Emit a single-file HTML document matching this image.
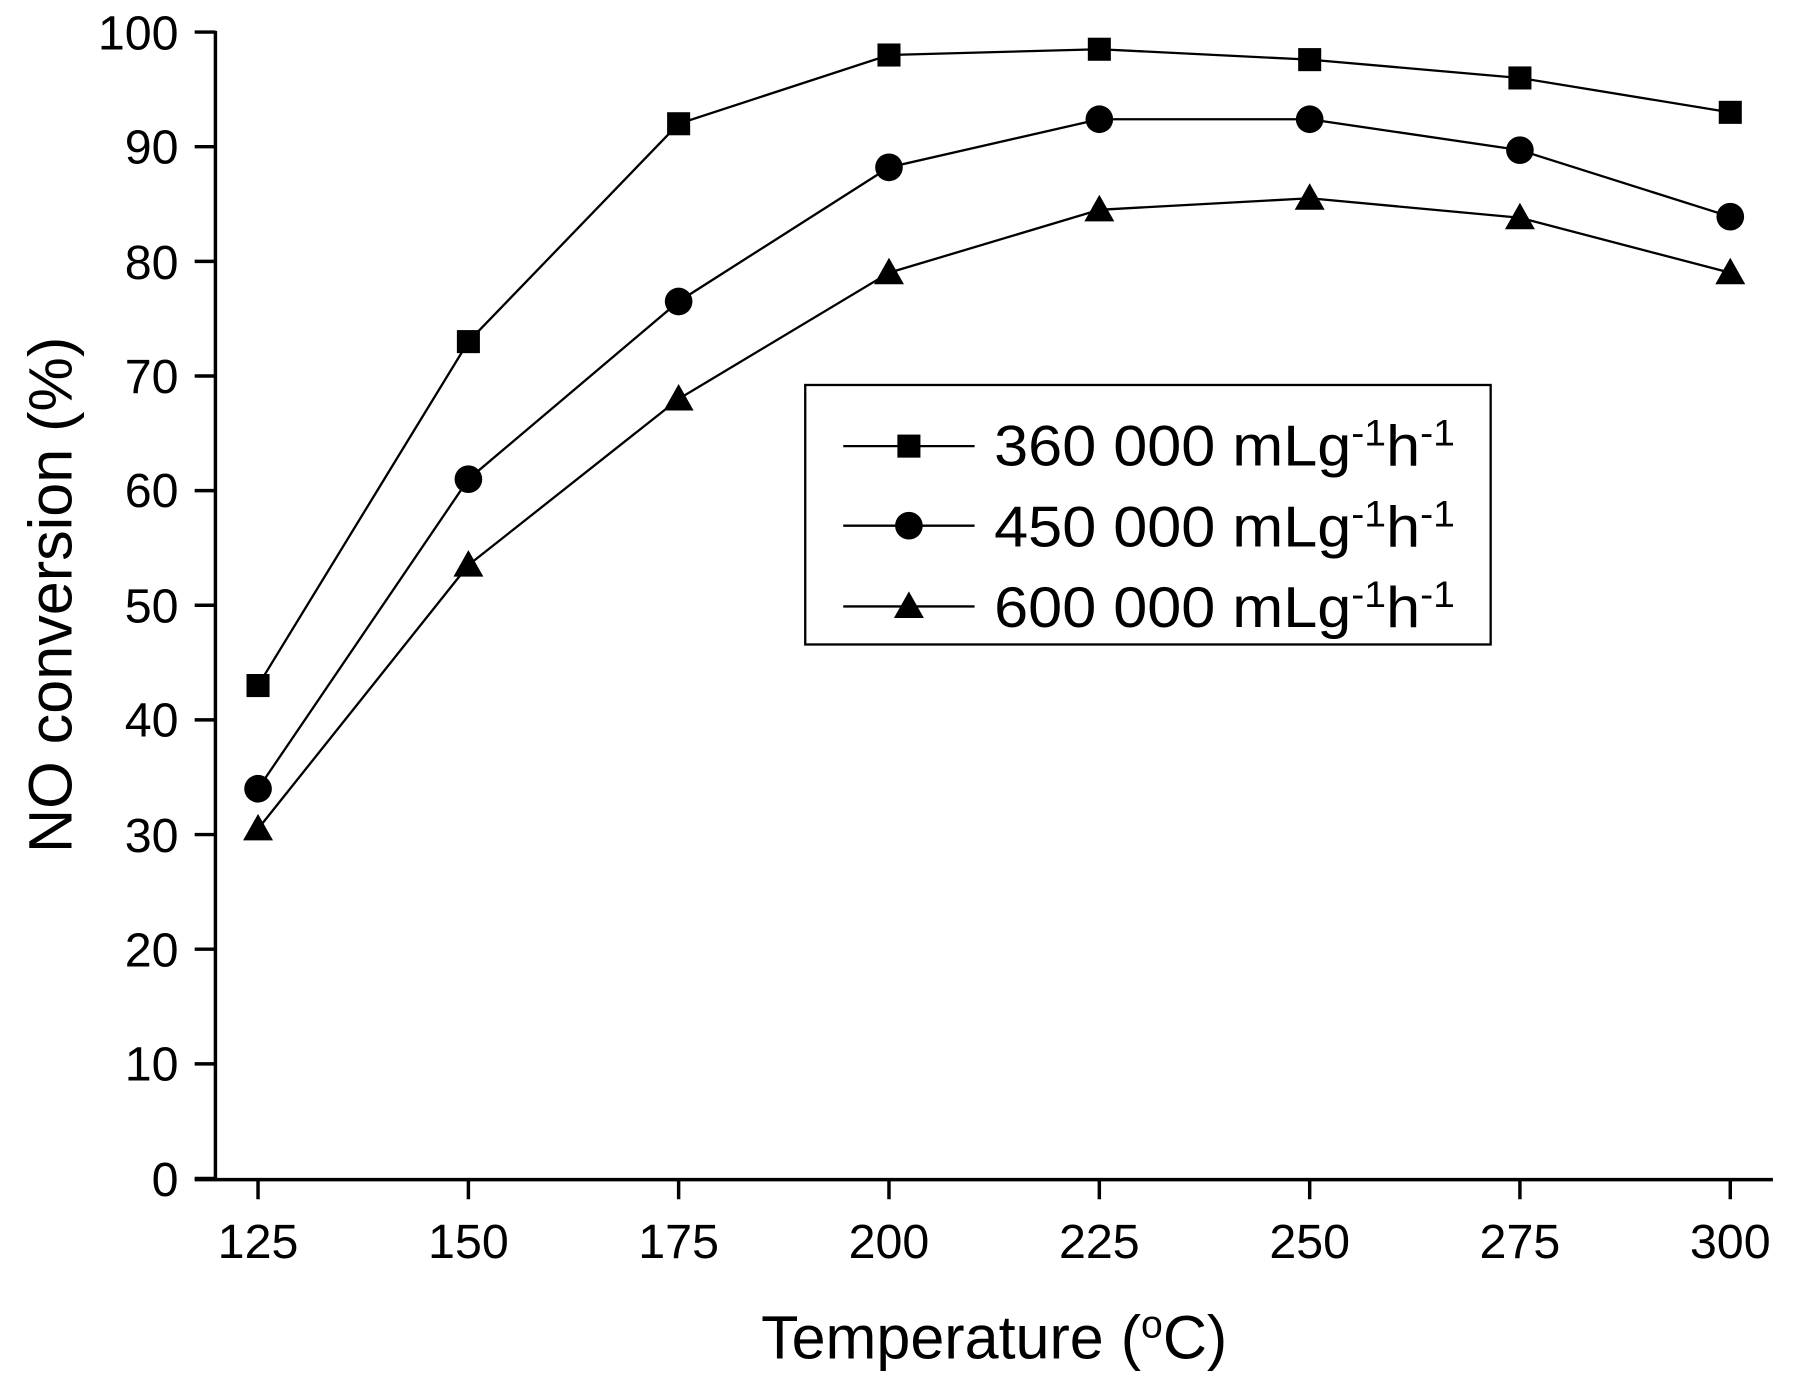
<!DOCTYPE html>
<html><head><meta charset="utf-8"><style>html,body{margin:0;padding:0;background:#fff}svg{display:block}</style></head>
<body>
<svg width="1804" height="1384" viewBox="1 1.2 1566 1200" preserveAspectRatio="none" xmlns="http://www.w3.org/2000/svg" font-family="Liberation Sans, sans-serif">
<g stroke="#000" stroke-width="3" fill="none">
<line x1="188" y1="28" x2="188" y2="1024"/>
<line x1="170" y1="1024" x2="1540" y2="1024"/>
<path d="M170 29H188M170 128.4H188M170 227.8H188M170 327.2H188M170 426.6H188M170 526H188M170 625.4H188M170 724.8H188M170 824.2H188M170 923.6H188M170 1023H188"/>
<path d="M225 1024V1041M407.6 1024V1041M590.1 1024V1041M772.7 1024V1041M955.3 1024V1041M1137.9 1024V1041M1320.4 1024V1041M1503 1024V1041"/>
</g>
<g font-size="42" text-anchor="end">
<text x="156" y="44">100</text><text x="156" y="143">90</text><text x="156" y="243">80</text><text x="156" y="342">70</text><text x="156" y="441">60</text><text x="156" y="541">50</text><text x="156" y="640">40</text><text x="156" y="740">30</text><text x="156" y="839">20</text><text x="156" y="938">10</text><text x="156" y="1038">0</text>
</g>
<g font-size="42" text-anchor="middle">
<text x="225" y="1092">125</text><text x="407.6" y="1092">150</text><text x="590.1" y="1092">175</text><text x="772.7" y="1092">200</text><text x="955.3" y="1092">225</text><text x="1137.9" y="1092">250</text><text x="1320.4" y="1092">275</text><text x="1503" y="1092">300</text>
</g>
<text x="864" y="1179" font-size="53" text-anchor="middle">Temperature (<tspan baseline-shift="super" font-size="34">o</tspan>C)</text>
<text transform="translate(63,517) rotate(-90)" font-size="53" text-anchor="middle">NO conversion (%)</text>
<g stroke="#000" stroke-width="2" fill="none">
<polyline points="225,595.6 407.6,297.4 590.1,108.5 772.7,48.9 955.3,43.9 1137.9,52.9 1320.4,68.8 1503,98.6"/>
<polyline points="225,685.1 407.6,416.7 590.1,262.6 772.7,146.3 955.3,104.6 1137.9,104.6 1320.4,131.4 1503,189.1"/>
<polyline points="225,719.9 407.6,491.2 590.1,347.1 772.7,237.7 955.3,183.1 1137.9,173.1 1320.4,190.0 1503,237.7"/>
</g>
<g fill="#000">
<rect x="215" y="585.6" width="20" height="20"/><rect x="397.6" y="287.4" width="20" height="20"/><rect x="580.1" y="98.5" width="20" height="20"/><rect x="762.7" y="38.9" width="20" height="20"/><rect x="945.3" y="33.9" width="20" height="20"/><rect x="1127.9" y="42.9" width="20" height="20"/><rect x="1310.4" y="58.8" width="20" height="20"/><rect x="1493" y="88.6" width="20" height="20"/>
<circle cx="225" cy="685.1" r="12"/><circle cx="407.6" cy="416.7" r="12"/><circle cx="590.1" cy="262.6" r="12"/><circle cx="772.7" cy="146.3" r="12"/><circle cx="955.3" cy="104.6" r="12"/><circle cx="1137.9" cy="104.6" r="12"/><circle cx="1320.4" cy="131.4" r="12"/><circle cx="1503" cy="189.1" r="12"/>
<path d="M225 706.9l13 23h-26zM407.6 478.2l13 23h-26zM590.1 334.1l13 23h-26zM772.7 224.7l13 23h-26zM955.3 170.1l13 23h-26zM1137.9 160.1l13 23h-26zM1320.4 177l13 23h-26zM1503 224.7l13 23h-26z"/>
</g>
<rect x="700" y="335" width="595" height="225" fill="#fff" stroke="#000" stroke-width="2"/>
<g stroke="#000" stroke-width="2"><line x1="733" y1="388" x2="847" y2="388"/><line x1="733" y1="457" x2="847" y2="457"/><line x1="733" y1="527" x2="847" y2="527"/></g>
<rect x="780" y="378" width="20" height="20"/><circle cx="790" cy="457" r="12"/><path d="M790 514l13 23h-26z"/>
<g font-size="50">
<text x="864" y="405" textLength="400" lengthAdjust="spacingAndGlyphs">360 000 mLg<tspan baseline-shift="super" font-size="32">-1</tspan>h<tspan baseline-shift="super" font-size="32">-1</tspan></text>
<text x="864" y="475" textLength="400" lengthAdjust="spacingAndGlyphs">450 000 mLg<tspan baseline-shift="super" font-size="32">-1</tspan>h<tspan baseline-shift="super" font-size="32">-1</tspan></text>
<text x="864" y="545" textLength="400" lengthAdjust="spacingAndGlyphs">600 000 mLg<tspan baseline-shift="super" font-size="32">-1</tspan>h<tspan baseline-shift="super" font-size="32">-1</tspan></text>
</g>
</svg>
</body></html>
